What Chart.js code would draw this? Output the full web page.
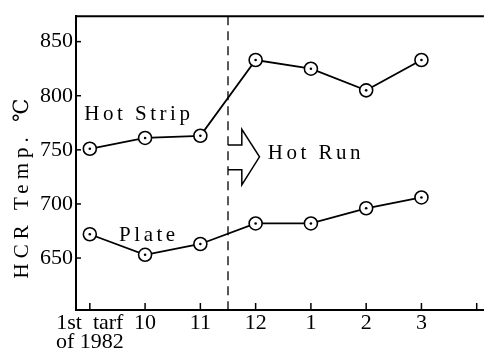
<!DOCTYPE html>
<html>
<head>
<meta charset="utf-8">
<script src="https://cdn.jsdelivr.net/npm/chart.js@4.4.1/dist/chart.umd.min.js"></script>
<style>
  body { margin: 0; background: #fff; }
  #wrap { width: 492px; height: 354px; position: relative; }
</style>
</head>
<body>
<div id="wrap"><canvas id="myChart"></canvas></div>
<script>
// months along the bottom (index = x position)
var xLabels = [['1st  tarf', 'of 1982'], '10', '11', '12', '1', '2', '3', '']
var yTicks = [650, 700, 750, 800, 850]

// HCR temperature, deg C
var hotStrip = [751, 761, 763, 833, 825, 805, 833]
var plate = [672, 653, 663, 682, 682, 696, 706]

// annotation spots, in data units
var hotRunAt = 2.5
var arrow = { x0: 2.5, x1: 2.75, tip: 3.07, headTop: 769, bodyTop: 754.5, bodyBot: 731.5, headBot: 717.5, mid: 743.5 }
var notes = [
  { text: 'Hot Strip', x: -0.1, y: 778 },
  { text: 'Plate', x: 0.53, y: 665.5 },
  { text: 'Hot Run', x: 3.22, y: 742 }
]

var serif = "'Liberation Serif', 'DejaVu Serif', serif"

function toPoints(arr) {
  return arr.map(function(v, i) { return { x: i, y: v } })
}

var extras = {
  id: 'extras',
  afterDraw: function(chart) {
    var ctx = chart.ctx
    var a = chart.chartArea
    var xs = chart.scales.x
    var ys = chart.scales.y
    ctx.save()
    ctx.strokeStyle = '#000'
    ctx.fillStyle = '#000'

    // top frame line
    ctx.lineWidth = 2
    ctx.beginPath()
    ctx.moveTo(a.left, a.top)
    ctx.lineTo(a.right, a.top)
    ctx.stroke()

    // inner tick marks
    ctx.lineWidth = 1.5
    xs.ticks.forEach(function(t) {
      var px = xs.getPixelForValue(t.value)
      ctx.beginPath()
      ctx.moveTo(px, a.bottom)
      ctx.lineTo(px, a.bottom - 7)
      ctx.stroke()
    })
    ys.ticks.forEach(function(t) {
      var py = ys.getPixelForValue(t.value)
      ctx.beginPath()
      ctx.moveTo(a.left, py)
      ctx.lineTo(a.left + 5, py)
      ctx.stroke()
    })

    // dashed hot run line
    var dx = xs.getPixelForValue(hotRunAt)
    ctx.lineWidth = 1.3
    ctx.setLineDash([9, 6])
    ctx.beginPath()
    ctx.moveTo(dx, a.top)
    ctx.lineTo(dx, a.bottom)
    ctx.stroke()
    ctx.setLineDash([])

    // open arrow
    var X = function(v) { return xs.getPixelForValue(v) }
    var Y = function(v) { return ys.getPixelForValue(v) }
    ctx.lineWidth = 1.5
    ctx.beginPath()
    ctx.moveTo(X(arrow.x0), Y(arrow.bodyTop))
    ctx.lineTo(X(arrow.x1), Y(arrow.bodyTop))
    ctx.lineTo(X(arrow.x1), Y(arrow.headTop))
    ctx.lineTo(X(arrow.tip), Y(arrow.mid))
    ctx.lineTo(X(arrow.x1), Y(arrow.headBot))
    ctx.lineTo(X(arrow.x1), Y(arrow.bodyBot))
    ctx.lineTo(X(arrow.x0), Y(arrow.bodyBot))
    ctx.stroke()

    // centre dots in the markers
    chart.data.datasets.forEach(function(ds, i) {
      chart.getDatasetMeta(i).data.forEach(function(p) {
        ctx.beginPath()
        ctx.arc(p.x, p.y, 1.3, 0, Math.PI * 2)
        ctx.fill()
      })
    })

    // text notes
    ctx.font = '21px ' + serif
    ctx.letterSpacing = '3.5px'
    ctx.textBaseline = 'alphabetic'
    ctx.textAlign = 'left'
    notes.forEach(function(n) {
      ctx.fillText(n.text, X(n.x), Y(n.y))
    })

    // y axis title
    ctx.translate(28, 186)
    ctx.rotate(-Math.PI / 2)
    ctx.textAlign = 'center'
    ctx.font = '21px ' + serif
    ctx.letterSpacing = '5px'
    ctx.fillText('HCR Temp. ℃', 0, 0)
    ctx.restore()
  }
}

var ctx = document.getElementById('myChart').getContext('2d')
var chart = new Chart(ctx, {
  type: 'line',
  data: {
    datasets: [{
      label: 'Hot Strip',
      data: toPoints(hotStrip),
      borderColor: '#000',
      borderWidth: 1.8,
      pointRadius: 6.5,
      pointBorderWidth: 1.6,
      pointBackgroundColor: '#fff',
      pointBorderColor: '#000',
      tension: 0
    }, {
      label: 'Plate',
      data: toPoints(plate),
      borderColor: '#000',
      borderWidth: 1.8,
      pointRadius: 6.5,
      pointBorderWidth: 1.6,
      pointBackgroundColor: '#fff',
      pointBorderColor: '#000',
      tension: 0
    }]
  },
  options: {
    responsive: true,
    maintainAspectRatio: false,
    animation: false,
    layout: { padding: { top: 10, right: 0, left: 0, bottom: 0 } },
    plugins: { legend: { display: false }, tooltip: { enabled: false } },
    scales: {
      x: {
        type: 'linear',
        min: -0.25,
        max: 7.13,
        afterBuildTicks: function(s) {
          s.ticks = xLabels.map(function(_, i) { return { value: i } })
        },
        afterFit: function(s) { s.height = 44 },
        grid: { display: false, drawTicks: false },
        border: { display: true, color: '#000', width: 2 },
        ticks: {
          padding: 3,
          maxRotation: 0,
          autoSkip: false,
          color: '#000',
          font: { family: serif, size: 22, lineHeight: 0.9 },
          callback: function(v) { return xLabels[v] }
        }
      },
      y: {
        min: 602,
        max: 873.5,
        afterBuildTicks: function(s) {
          s.ticks = yTicks.map(function(v) { return { value: v } })
        },
        afterFit: function(s) { s.width = 76 },
        grid: { display: false, drawTicks: false },
        border: { display: true, color: '#000', width: 2 },
        ticks: {
          padding: 3,
          color: '#000',
          font: { family: serif, size: 22 }
        }
      }
    }
  },
  plugins: [extras]
})
</script>
</body>
</html>
